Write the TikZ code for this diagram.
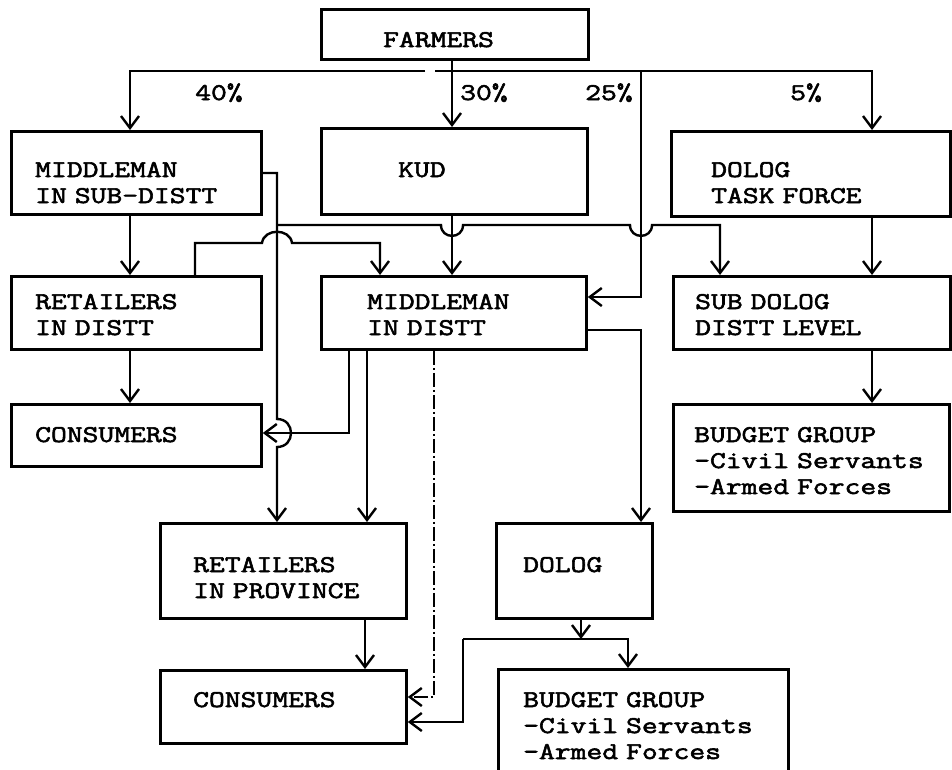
\documentclass[tikz,border=0pt]{standalone}
\usepackage{fontspec}
\newfontfamily\typewriter{Latin Modern Mono}[FakeStretch=1.28,FakeBold=2.4]
% typewriter setting: every character cell, the blank included, is 16.1pt wide
\newcommand\typeset{\typewriter\fontsize{24}{26}\selectfont
  \fontdimen2\font=16.1pt\fontdimen3\font=0pt\fontdimen4\font=0pt}
\usetikzlibrary{arrows.meta}
\begin{document}
\begin{tikzpicture}[x=1pt,y=-1pt,
  box/.style={draw, line width=2.8pt, rectangle, inner sep=0pt, anchor=north west},
  txt/.style={inner sep=0pt, anchor=base west, text width=320pt, align=left,
              font=\typeset},
  link/.style={line width=2.4pt},
  arr/.style={link, -{Straight Barb[length=12pt,width=18pt,line width=2.4pt]}},
  dashdot/.style={dash pattern=on 14pt off 3pt on 2pt off 3pt}]

\useasboundingbox (0,0) rectangle (952,769);
\clip (0,0) rectangle (952,769);

% boxes
\node[box, minimum width=267pt, minimum height=50pt] (farm)  at (320,8)   {};
\node[box, minimum width=250pt, minimum height=83pt] (msub)  at (10,130)  {};
\node[box, minimum width=266pt, minimum height=86pt] (kud)   at (320,127) {};
\node[box, minimum width=279pt, minimum height=85pt] (dtf)   at (670,130) {};
\node[box, minimum width=250pt, minimum height=73pt] (rdist) at (10,275)  {};
\node[box, minimum width=265pt, minimum height=73pt] (mdist) at (320,275) {};
\node[box, minimum width=277pt, minimum height=73pt] (subd)  at (672,275) {};
\node[box, minimum width=250pt, minimum height=62pt] (cons1) at (10,403)  {};
\node[box, minimum width=276pt, minimum height=107pt] (bgr)  at (672,403) {};
\node[box, minimum width=246pt, minimum height=95pt] (rprov) at (159,522) {};
\node[box, minimum width=156pt, minimum height=95pt] (dolog) at (495,522) {};
\node[box, minimum width=246pt, minimum height=73pt] (cons2) at (159,669) {};
\node[box, minimum width=290pt, minimum height=140pt] (bgb)  at (497,668) {};

% box texts
\node[txt] (t-farm)  at (383,47)  {FARMERS};
\node[txt] (t-msub)  at (35,177)  {MIDDLEMAN\\IN SUB-DISTT};
\node[txt] (t-kud)   at (398,177) {KUD};
\node[txt] (t-dtf)   at (711,177) {DOLOG\\TASK FORCE};
\node[txt] (t-rdist) at (35,309)  {RETAILERS\\IN DISTT};
\node[txt] (t-mdist) at (367,309) {MIDDLEMAN\\IN DISTT};
\node[txt] (t-subd)  at (695,309) {SUB DOLOG\\DISTT LEVEL};
\node[txt] (t-cons1) at (35,442)  {CONSUMERS};
\node[txt] (t-bgr)   at (694,442) {BUDGET GROUP\\-Civil Servants\\-Armed Forces};
\node[txt] (t-rprov) at (193,572) {RETAILERS\\IN PROVINCE};
\node[txt] (t-dolog) at (523,572) {DOLOG};
\node[txt] (t-cons2) at (193,707) {CONSUMERS};
\node[txt] (t-bgb)   at (523,707) {BUDGET GROUP\\-Civil Servants\\-Armed Forces};

% shares
\node[txt] (p40) at (195,100) {40\%};
\node[txt] (p30) at (460,100) {30\%};
\node[txt] (p25) at (585,100) {25\%};
\node[txt] (p5)  at (790,100) {5\%};

% split of the farmers' output
\coordinate (gapL) at (425,71);
\coordinate (gapR) at (435,71);
\coordinate (j25)  at (641,71);
\draw[arr] (farm.south -| 452,0) -- (kud.north -| 452,0);
\draw[arr] (gapL) -- (130,71) -- (msub.north -| 130,0);
\draw[arr] (gapR) -- (872,71) -- (dtf.north -| 872,0);
\draw[arr] (j25) -- (641,297) -- (mdist.east |- 0,297);

% middleman in sub-district
\coordinate (jC) at (277,225);
\draw[arr] (msub.east |- 0,173) -- (277,173) -- (277,419)
  .. controls (295.7,419) and (295.7,447) .. (277,447) -- (rprov.north -| 277,0);
\draw[arr] (jC) -- (441,225) .. controls (441,239.5) and (463,239.5) .. (463,225)
  -- (630,225) .. controls (630,239.5) and (652,239.5) .. (652,225)
  -- (720,225) -- (subd.north -| 720,0);
\draw[arr] (msub.south -| 130,0) -- (rdist.north -| 130,0);

% retailers in district
\draw[arr] (rdist.north -| 195,0) -- (195,243) -- (262,243)
  .. controls (264,228) and (290,228) .. (292,243) -- (380,243) -- (mdist.north -| 380,0);
\draw[arr] (rdist.south -| 130,0) -- (cons1.north -| 130,0);

% KUD and task force
\draw[arr] (kud.south -| 452,0) -- (mdist.north -| 452,0);
\draw[arr] (dtf.south -| 872,0) -- (subd.north -| 872,0);
\draw[arr] (subd.south -| 872,0) -- (bgr.north -| 872,0);

% middleman in district
\draw[arr] (mdist.south -| 349,0) -- (349,433) -- (cons1.east |- 0,433);
\draw[arr] (mdist.south -| 367,0) -- (rprov.north -| 367,0);
\draw[arr, dashdot] (mdist.south -| 434,0) -- (434,697) -- (cons2.east |- 0,697);
\draw[arr] (mdist.east |- 0,330) -- (641,330) -- (dolog.north -| 641,0);

% province level
\draw[arr] (rprov.south -| 365,0) -- (cons2.north -| 365,0);
\coordinate (jD) at (581,639);
\coordinate (jL) at (463,639);
\draw[arr] (dolog.south -| 581,0) -- (jD);
\draw[arr] (jL) -- (628,639) -- (bgb.north -| 628,0);
\draw[arr] (jL) -- (463,722) -- (cons2.east |- 0,722);
\end{tikzpicture}
\end{document}
